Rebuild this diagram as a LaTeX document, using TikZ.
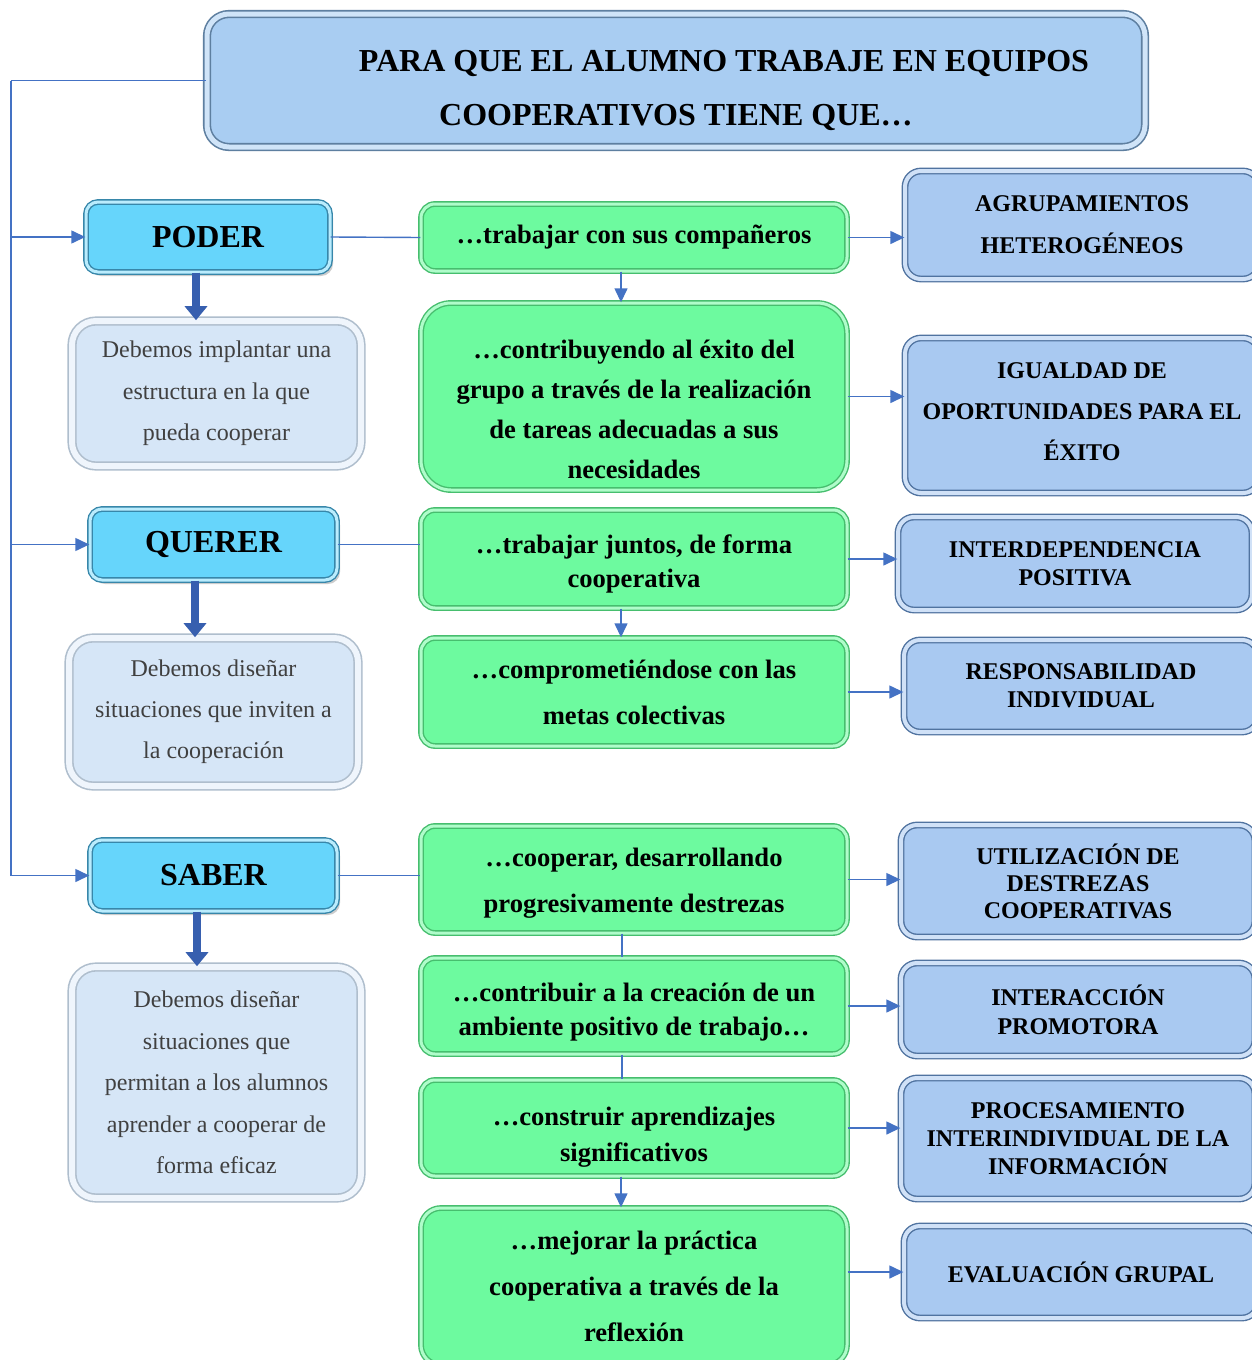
\documentclass[tikz,border=0pt]{standalone}
\usepackage{fontspec}
\setmainfont{Liberation Serif}
\usetikzlibrary{arrows.meta,shadows,positioning}
\definecolor{titlefill}{RGB}{169,205,242}
\definecolor{titleline}{RGB}{94,127,160}
\definecolor{verbfill}{RGB}{102,213,251}
\definecolor{verbline}{RGB}{55,135,170}
\definecolor{notefill}{RGB}{214,230,247}
\definecolor{noteline}{RGB}{175,190,205}
\definecolor{notetext}{RGB}{64,64,64}
\definecolor{actfill}{RGB}{109,250,159}
\definecolor{actline}{RGB}{70,190,110}
\definecolor{keyfill}{RGB}{169,201,241}
\definecolor{keyline}{RGB}{80,115,160}
\definecolor{linkblue}{RGB}{68,114,196}
\definecolor{arrowblue}{RGB}{55,95,175}

\begin{document}
\begin{tikzpicture}[x=0.5pt, y=-0.5pt,
    titlebox/.style={draw=titleline, double=titlefill!55!white, double distance=2.5pt, line width=0.8pt,
        fill=titlefill, rounded corners=11pt, align=center, font=\bfseries\fontsize{16}{27}\selectfont,
        drop shadow={opacity=0.25, shadow xshift=1pt, shadow yshift=-1.5pt}},
    verbbox/.style={draw=verbline, double=verbfill!45!white, double distance=1.5pt, line width=0.7pt,
        fill=verbfill, rounded corners=6pt, font=\bfseries\fontsize{16}{18}\selectfont,
        drop shadow={opacity=0.4, shadow xshift=1.5pt, shadow yshift=-2pt}},
    notebox/.style={draw=noteline, double=notefill!40!white, double distance=3pt, line width=0.8pt,
        fill=notefill, rounded corners=12pt, align=center, text=notetext,
        font=\fontsize{12}{#1}\selectfont},
    notebox/.default=20.75pt,
    actbox/.style={draw=actline, double=actfill!55!white, double distance=1.5pt, line width=0.7pt,
        fill=actfill, rounded corners=7pt, minimum width=213pt, align=center,
        font=\bfseries\fontsize{13.3}{#1}\selectfont},
    actbox/.default=20pt,
    keybox/.style={draw=keyline, double=keyfill!55!white, double distance=2pt, line width=0.7pt,
        fill=keyfill, rounded corners=8pt, minimum width=177pt, align=center,
        font=\bfseries\fontsize{12}{#1}\selectfont,
        drop shadow={opacity=0.2, shadow xshift=1pt, shadow yshift=-1pt}},
    keybox/.default=14pt,
    link/.style={draw=linkblue, line width=0.7pt},
    linkarrow/.style={link, -{Triangle[length=7pt,width=6.5pt]}},
    bigdown/.style={draw=arrowblue, line width=4pt, -{Triangle[length=7pt,width=11pt]}}]

\useasboundingbox (0,0) rectangle (1252,1360);
\fill[white] (0,0) rectangle (1252,1360);

% title
\node[titlebox, minimum width=469pt, minimum height=66.5pt] (title) at (676,80.5)
    {\rule{0pt}{21pt}\hspace*{48pt}PARA QUE EL ALUMNO TRABAJE EN EQUIPOS\\COOPERATIVOS TIENE QUE…};

% left column
\node[verbbox, minimum width=122pt, minimum height=35pt] (poder) at (208,237) {PODER};
\node[verbbox, minimum width=123.5pt, minimum height=35.5pt] (querer) at (213.5,544.5) {QUERER};
\node[verbbox, minimum width=123.5pt, minimum height=35.5pt] (saber) at (213.5,875.5) {SABER};

\node[notebox, minimum width=144.5pt, minimum height=72.5pt] (poderNote) at (216.5,393.5)
    {Debemos implantar una\\estructura en la que\\pueda cooperar};
\node[notebox=20.5pt, minimum width=144.5pt, minimum height=74pt] (quererNote) at (213.5,712)
    {Debemos diseñar\\situaciones que inviten a\\la cooperación};
\node[notebox, minimum width=144.5pt, minimum height=115.5pt] (saberNote) at (216.5,1082.5)
    {Debemos diseñar\\situaciones que\\permitan a los alumnos\\aprender a cooperar de\\forma eficaz};

% middle column
\node[actbox, minimum height=33.5pt] (g1) at (634,237.5) {…trabajar con sus compañeros};
\node[actbox=20pt, rounded corners=15pt, minimum height=93.5pt] (g2) at (634,396.5)
    {\rule{0pt}{22pt}…contribuyendo al éxito del\\grupo a través de la realización\\de tareas adecuadas a sus\\necesidades};
\node[actbox=17pt, minimum height=49pt] (g3) at (634,559) {\rule{0pt}{14pt}…trabajar juntos, de forma\\cooperativa};
\node[actbox=23pt, minimum height=54pt] (g4) at (634,692) {…comprometiéndose con las\\metas colectivas};
\node[actbox=23pt, minimum height=53.5pt] (g5) at (634,879.5) {\rule{0pt}{13pt}…cooperar, desarrollando\\progresivamente destrezas};
\node[actbox=17pt, minimum height=48pt] (g6) at (634,1006) {\rule{0pt}{15.5pt}…contribuir a la creación de un\\ambiente positivo de trabajo…};
\node[actbox=18pt, minimum height=48pt] (g7) at (634,1128) {\rule{0pt}{18pt}…construir aprendizajes\\significativos};
\node[actbox=23pt, rounded corners=10pt, minimum height=78.5pt] (g8) at (634,1286.5)
    {…mejorar la práctica\\cooperativa a través de la\\reflexión};

% right column
\node[keybox=21pt, minimum height=54pt] (b1) at (1082,225) {AGRUPAMIENTOS\\HETEROGÉNEOS};
\node[keybox=20.5pt, minimum height=77.5pt] (b2) at (1082,415.5) {IGUALDAD DE\\OPORTUNIDADES PARA EL\\ÉXITO\rule[-4pt]{0pt}{4pt}};
\node[keybox, minimum height=46.5pt] (b3) at (1075,563.5) {INTERDEPENDENCIA\\POSITIVA};
\node[keybox, minimum height=46pt] (b4) at (1081,686) {RESPONSABILIDAD\\INDIVIDUAL};
\node[keybox=13.5pt, minimum height=56pt] (b5) at (1078,881) {UTILIZACIÓN DE\\DESTREZAS\\COOPERATIVAS};
\node[keybox=14.5pt, minimum height=46.5pt] (b6) at (1078,1009.5) {INTERACCIÓN\\PROMOTORA};
\node[keybox, minimum height=60.5pt] (b7) at (1078,1138.5) {PROCESAMIENTO\\INTERINDIVIDUAL DE LA\\INFORMACIÓN};
\node[keybox, minimum height=46pt] (b8) at (1081,1272) {EVALUACIÓN GRUPAL};

% trunk on the left
\coordinate (trunk) at (11,80.5);
\draw[link] (title.west) -- (trunk);
\draw[linkarrow] (trunk) |- (poder.west);
\draw[linkarrow] (trunk) |- (querer.west);
\draw[linkarrow] (trunk) |- (saber.west);

\draw[bigdown] ([xshift=-6pt]poder.south) -- ([xshift=-10.25pt]poderNote.north);
\draw[bigdown] ([xshift=-9.25pt]querer.south) -- ([xshift=-9.25pt]quererNote.north);
\draw[bigdown] ([xshift=-8.25pt]saber.south) -- ([xshift=-9.75pt]saberNote.north);

\draw[link] (poder.east) -- (g1.west);
\draw[link] (querer.east) -- (querer.east -| g3.west);
\draw[link] (saber.east) -- (saber.east -| g5.west);

\draw[linkarrow] ([xshift=-6.5pt]g1.south) -- ([xshift=-6.5pt]g2.north);
\draw[linkarrow] ([xshift=-6.5pt]g3.south) -- ([xshift=-6.5pt]g4.north);
\draw[link] ([xshift=-6pt]g5.south) -- ([xshift=-6pt]g6.north);
\draw[link] ([xshift=-6pt]g6.south) -- ([xshift=-6pt]g7.north);
\draw[linkarrow] ([xshift=-6.5pt]g7.south) -- ([xshift=-6.5pt]g8.north);

\draw[linkarrow] (g1.east) -- (g1.east -| b1.west);
\draw[linkarrow] (g2.east) -- (g2.east -| b2.west);
\draw[linkarrow] (g3.east) -- (g3.east -| b3.west);
\draw[linkarrow] (g4.east) -- (g4.east -| b4.west);
\draw[linkarrow] (g5.east) -- (g5.east -| b5.west);
\draw[linkarrow] (g6.east) -- (g6.east -| b6.west);
\draw[linkarrow] (g7.east) -- (g7.east -| b7.west);
\draw[linkarrow] (g8.east |- b8.west) -- (b8.west);
\end{tikzpicture}
\end{document}
